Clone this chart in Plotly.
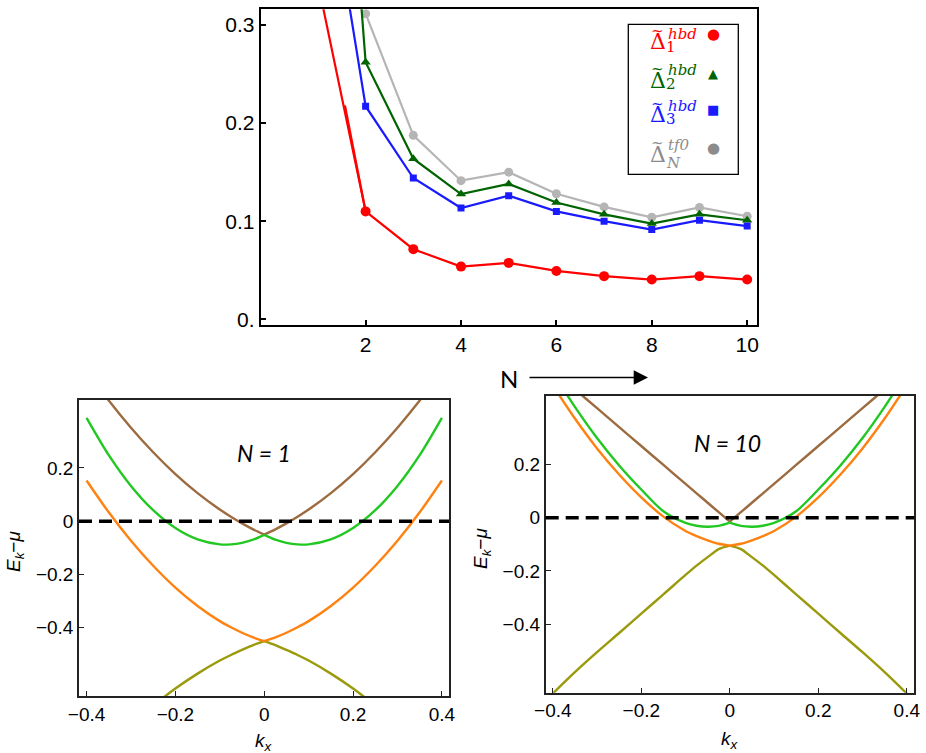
import plotly.graph_objects as go

W, H = 926, 753

# ---------------- data: top panel (gap vs N) ----------------
N_vals = [1, 2, 3, 4, 5, 6, 7, 8, 9, 10]
hbd1 = [0.343, 0.110, 0.0715, 0.0537, 0.0575, 0.0493, 0.0440, 0.0405, 0.0440, 0.0405]
hbd2 = [0.900, 0.262, 0.1637, 0.1277, 0.138, 0.119, 0.107, 0.0976, 0.107, 0.101]
hbd3 = [0.517, 0.2172, 0.144, 0.1134, 0.126, 0.110, 0.100, 0.0915, 0.101, 0.095]
N_tf0 = [2, 3, 4, 5, 6, 7, 8, 9, 10]
tf0 = [0.3115, 0.1875, 0.1413, 0.150, 0.128, 0.1146, 0.104, 0.114, 0.105]
# short extra red segment visible near N = 2
hbd1_extra_N = [1.566, 2.0]
hbd1_extra = [0.218, 0.110]

top_xticks = [2, 4, 6, 8, 10]
top_yticks = [0, 0.1, 0.2, 0.3]
top_yticklabels = ["0.", "0.1", "0.2", "0.3"]

# ---------------- data: band panels ----------------
kx = [-0.4, -0.35, -0.3, -0.25, -0.2, -0.15, -0.1, -0.075, -0.05, -0.025, 0.0,
      0.025, 0.05, 0.075, 0.1, 0.15, 0.2, 0.25, 0.3, 0.35, 0.4]

# N = 1
brown_N1 = [0.565, 0.453, 0.351, 0.259, 0.177, 0.1055, 0.0436, 0.0165, -0.0082, -0.0304, -0.050,
            -0.0304, -0.0082, 0.0165, 0.0436, 0.1055, 0.177, 0.259, 0.351, 0.453, 0.565]
green_N1 = [0.388, 0.248, 0.1325, 0.0413, -0.0257, -0.0683, -0.0868, -0.0869, -0.081, -0.069, -0.051,
            -0.069, -0.081, -0.0869, -0.0868, -0.0683, -0.0257, 0.0413, 0.1325, 0.248, 0.388]
orange_N1 = [0.153, 0.0335, -0.073, -0.167, -0.249, -0.318, -0.375, -0.398, -0.4185, -0.436, -0.450,
             -0.436, -0.4185, -0.398, -0.375, -0.318, -0.249, -0.167, -0.073, 0.0335, 0.153]
olive_N1 = [-0.935, -0.846, -0.766, -0.693, -0.628, -0.572, -0.523, -0.502, -0.483, -0.465, -0.450,
            -0.465, -0.483, -0.502, -0.523, -0.572, -0.628, -0.693, -0.766, -0.846, -0.935]

# N = 10
brown_N10 = [0.553, 0.482, 0.411, 0.340, 0.269, 0.198, 0.127, 0.0915, 0.056, 0.0205, -0.015,
             0.0205, 0.056, 0.0915, 0.127, 0.198, 0.269, 0.340, 0.411, 0.482, 0.553]
green_N10 = [0.545, 0.416, 0.299, 0.196, 0.1056, 0.024, -0.0198, -0.0303, -0.034, -0.031, -0.019,
             -0.031, -0.034, -0.0303, -0.0198, 0.024, 0.1056, 0.196, 0.299, 0.416, 0.545]
orange_N10 = [0.497, 0.372, 0.260, 0.162, 0.076, 0.004, -0.050, -0.069, -0.085, -0.098, -0.105,
              -0.098, -0.085, -0.069, -0.050, 0.004, 0.076, 0.162, 0.260, 0.372, 0.497]
olive_N10 = [-0.660, -0.580, -0.505, -0.433, -0.360, -0.288, -0.215, -0.180, -0.148, -0.118, -0.105,
             -0.118, -0.148, -0.180, -0.215, -0.288, -0.360, -0.433, -0.505, -0.580, -0.660]

band_xticks = [-0.4, -0.2, 0, 0.2, 0.4]
band_xticklabels = ["\u22120.4", "\u22120.2", "0", "0.2", "0.4"]
band_yticks = [-0.4, -0.2, 0, 0.2]
band_yticklabels = ["\u22120.4", "\u22120.2", "0", "0.2"]

# legend content
leg_sup = ["hbd", "hbd", "hbd", "tf0"]
leg_sub = ["1", "2", "3", "N"]
leg_colors = ["#ff0000", "#006400", "#1a1aff", "#8c8c8c"]
leg_symbols = ["\u25CF", "\u25B2", "\u25A0", "\u25CF"]

# ---------------- styles ----------------
C_RED, C_DGREEN, C_BLUE, C_GRAY = "#ff0000", "#006400", "#1a1aff", "#b5b5b5"
C_BROWN, C_GREEN, C_ORANGE, C_OLIVE = "#9c6b40", "#22c822", "#ff8210", "#9a9a0c"


def fx(p):
    return p / W


def fy(p):
    return 1 - p / H


fig = go.Figure()

# top panel traces
fig.add_trace(go.Scatter(x=N_vals, y=hbd1, mode="lines+markers", xaxis="x", yaxis="y",
                         line=dict(color=C_RED, width=2.2),
                         marker=dict(symbol="circle", size=10, color=C_RED), showlegend=False))
fig.add_trace(go.Scatter(x=hbd1_extra_N, y=hbd1_extra, mode="lines", xaxis="x", yaxis="y",
                         line=dict(color=C_RED, width=2.2), showlegend=False))
fig.add_trace(go.Scatter(x=N_tf0, y=tf0, mode="lines+markers", xaxis="x", yaxis="y",
                         line=dict(color=C_GRAY, width=2.2),
                         marker=dict(symbol="circle", size=9, color=C_GRAY), showlegend=False))
fig.add_trace(go.Scatter(x=N_vals, y=hbd2, mode="lines+markers", xaxis="x", yaxis="y",
                         line=dict(color=C_DGREEN, width=2.2),
                         marker=dict(symbol="triangle-up", size=9, color=C_DGREEN), showlegend=False))
fig.add_trace(go.Scatter(x=N_vals, y=hbd3, mode="lines+markers", xaxis="x", yaxis="y",
                         line=dict(color=C_BLUE, width=2.2),
                         marker=dict(symbol="square", size=7, color=C_BLUE), showlegend=False))

# band panels: each curve drawn as two smooth halves (kink at kx = 0)
mid = kx.index(0.0)


def add_band(xs, ys, color, xa, ya):
    for sl in (slice(0, mid + 1), slice(mid, len(xs))):
        fig.add_trace(go.Scatter(x=xs[sl], y=ys[sl], mode="lines", xaxis=xa, yaxis=ya,
                                 line=dict(color=color, width=2.4, shape="spline", smoothing=0.8),
                                 showlegend=False, hoverinfo="skip"))


for ys, c in [(olive_N1, C_OLIVE), (orange_N1, C_ORANGE), (brown_N1, C_BROWN), (green_N1, C_GREEN)]:
    add_band(kx, ys, c, "x2", "y2")
for ys, c in [(olive_N10, C_OLIVE), (orange_N10, C_ORANGE), (brown_N10, C_BROWN), (green_N10, C_GREEN)]:
    add_band(kx, ys, c, "x3", "y3")

tick_font_top = dict(family="Liberation Sans, Arial, sans-serif", size=21, color="black")
tick_font_bot = dict(family="Liberation Sans, Arial, sans-serif", size=19, color="black")

top_ax = dict(showline=True, linecolor="black", linewidth=2, mirror=True, ticks="inside",
              ticklen=5, tickwidth=1.6, tickcolor="black", showgrid=False, zeroline=False,
              tickfont=tick_font_top, automargin=False)
bot_ax = dict(showline=True, linecolor="#222222", linewidth=1.6, mirror=True, ticks="inside",
              ticklen=5, tickwidth=1.3, tickcolor="#222222", showgrid=False, zeroline=False,
              tickfont=tick_font_bot, automargin=False)

fig.update_layout(
    width=W, height=H, margin=dict(l=0, r=0, t=0, b=0, autoexpand=False),
    paper_bgcolor="white", plot_bgcolor="white", showlegend=False,
    xaxis=dict(top_ax, domain=[fx(260.7), fx(756.7)], range=[-0.2, 10.2], anchor="y",
               tickmode="array", tickvals=top_xticks),
    yaxis=dict(top_ax, domain=[fy(324.5), fy(9.3)], range=[-0.0053, 0.316], anchor="x",
               tickmode="array", tickvals=top_yticks, ticktext=top_yticklabels),
    xaxis2=dict(bot_ax, domain=[fx(79), fx(449)], range=[-0.417, 0.416], anchor="y2",
                tickmode="array", tickvals=band_xticks, ticktext=band_xticklabels),
    yaxis2=dict(bot_ax, domain=[fy(696), fy(400)], range=[-0.656, 0.455], anchor="x2",
                tickmode="array", tickvals=band_yticks, ticktext=band_yticklabels),
    xaxis3=dict(bot_ax, domain=[fx(545.7), fx(914.3)], range=[-0.416, 0.417], anchor="y3",
                tickmode="array", tickvals=band_xticks, ticktext=band_xticklabels),
    yaxis3=dict(bot_ax, domain=[fy(692.7), fy(396)], range=[-0.657, 0.4567], anchor="x3",
                tickmode="array", tickvals=band_yticks, ticktext=band_yticklabels),
)

shapes = []
# dashed Fermi level lines
for xr, yr in [("x2 domain", "y2"), ("x3 domain", "y3")]:
    shapes.append(dict(type="line", xref=xr, yref=yr, x0=0, x1=1, y0=0, y1=0,
                       line=dict(color="black", width=3.5, dash="13px,7px"), layer="above"))
# legend box
shapes.append(dict(type="rect", xref="paper", yref="paper", x0=fx(628.3), x1=fx(738.3),
                   y0=fy(174.3), y1=fy(24.3), line=dict(color="black", width=1.3),
                   fillcolor="white", layer="above"))
fig.update_layout(shapes=shapes)


def note(text, x, y, font, xanchor="center", yanchor="middle", **kw):
    return dict(text=text, x=fx(x), y=fy(y), xref="paper", yref="paper", xanchor=xanchor,
                yanchor=yanchor, showarrow=False, font=font, **kw)


ann = []
serif = "DejaVu Serif, Liberation Serif, serif"
delta_y = [42, 80, 115, 154]
tilde_y = [31, 69, 104, 143]
sup_y = [34, 70, 106, 145]
sub_y = [47, 84, 119, 162.5]
sym_y = [34, 73.3, 110, 147.7]
sym_size = [15, 13, 13, 15]
for i in range(4):
    col = leg_colors[i]
    ann.append(note("\u0394", 657.5, delta_y[i], dict(family=serif, size=22, color=col)))
    ann.append(note("~", 657.5, tilde_y[i], dict(family=serif, size=15, color=col)))
    ann.append(note("<i>" + leg_sup[i] + "</i>", 666, sup_y[i],
                    dict(family=serif, size=15, color=col), xanchor="left"))
    sub_txt = "<i>" + leg_sub[i] + "</i>" if leg_sub[i] == "N" else leg_sub[i]
    ann.append(note(sub_txt, 664, sub_y[i], dict(family=serif, size=15, color=col),
                    xanchor="left"))
    ann.append(note(leg_symbols[i], 713, sym_y[i],
                    dict(family="DejaVu Sans", size=sym_size[i], color=col)))

lab_font = dict(family="Liberation Sans, Arial, sans-serif", size=19, color="black")
cal_font = dict(family="Lato, Open Sans, sans-serif", size=23, color="black")
ytitle = "<i>E</i><sub><i>k</i></sub>\u2212<i>\u03bc</i>"
xtitle = "<i>k</i><sub><i>x</i></sub>"
ann += [
    note(ytitle, 15, 552, lab_font, textangle=-90),
    note(ytitle, 482, 548, lab_font, textangle=-90),
    note(xtitle, 264, 742, lab_font),
    note(xtitle, 730, 740, lab_font),
    note("<i>N = 1</i>", 264, 453, cal_font),
    note("<i>N = 10</i>", 727, 443, cal_font),
    note("N", 509, 378, dict(family="Lato, Open Sans, sans-serif", size=24, color="black")),
    dict(text="", x=fx(648), y=fy(377.5), xref="paper", yref="paper", showarrow=True,
         ax=-120, ay=0, arrowhead=2, arrowsize=2.2, arrowwidth=1.3, arrowcolor="black"),
]
fig.update_layout(annotations=ann)

fig.write_html("out.html", config={"displayModeBar": False},
               post_script="document.body.style.margin='0';document.body.style.overflow='hidden';")
